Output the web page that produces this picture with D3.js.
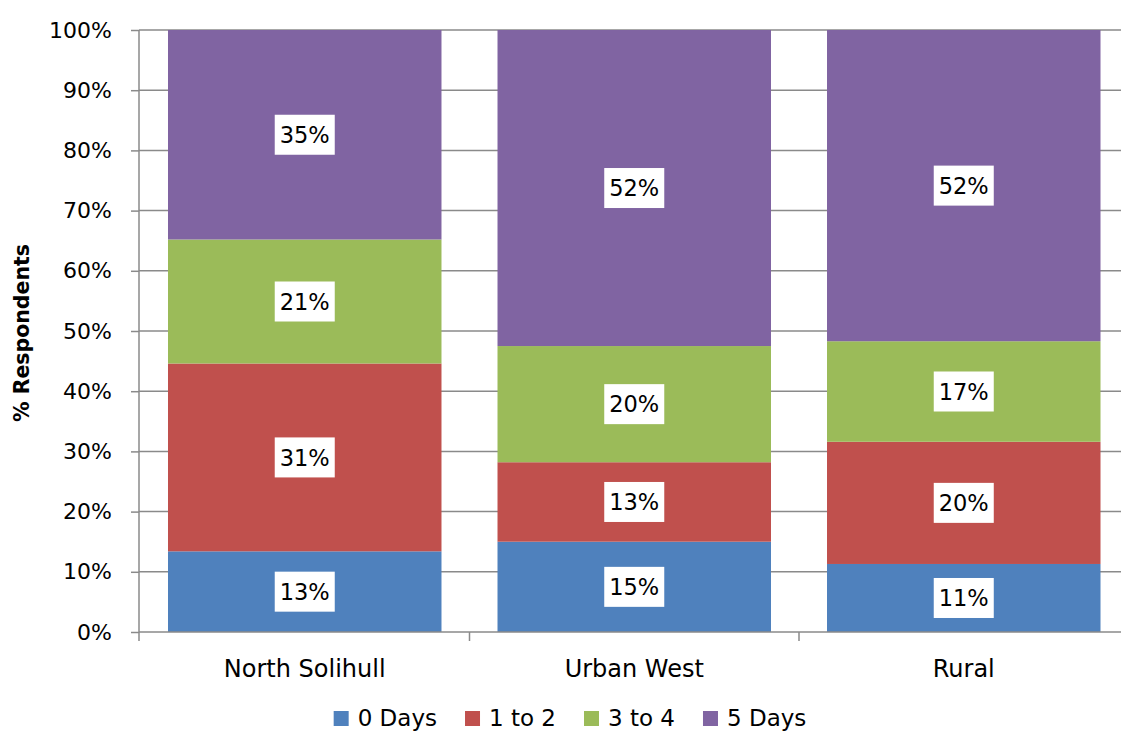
<!DOCTYPE html>
<html>
<head>
<meta charset="utf-8">
<script src="https://cdn.jsdelivr.net/npm/d3@7"></script>
<style>
  body { margin: 0; background: #fff; }
  svg { display: block; font-family: "DejaVu Sans", sans-serif; }
</style>
</head>
<body>
<svg id="chart" width="1121" height="731"></svg>
<script>
const categories = ['North Solihull', 'Urban West', 'Rural'];
const seriesNames = ['0 Days', '1 to 2', '3 to 4', '5 Days'];
const zeroDays = [13.4, 15.0, 11.3];
const oneToTwo = [31.2, 13.2, 20.3];
const threeToFour = [20.6, 19.3, 16.7];
const fiveDays = [34.8, 52.5, 51.7];
const labelText = [
  ['13%', '31%', '21%', '35%'],
  ['15%', '13%', '20%', '52%'],
  ['11%', '20%', '17%', '52%']
];
const yTicks = [0, 10, 20, 30, 40, 50, 60, 70, 80, 90, 100];
const colors = ['#4F81BD', '#C0504D', '#9BBB59', '#8064A2'];

const seriesValues = [zeroDays, oneToTwo, threeToFour, fiveDays];
const table = categories.map((c, i) => {
  const row = { category: c };
  seriesNames.forEach((s, j) => { row[s] = seriesValues[j][i]; });
  return row;
});

const plot = { left: 139, right: 1129.5, top: 30, bottom: 632 };
const axisColor = '#8a8a8a';

const svg = d3.select('#chart');

const x = d3.scaleBand()
  .domain(categories)
  .range([plot.left, plot.right])
  .paddingInner(0.17)
  .paddingOuter(0.088);

const y = d3.scaleLinear()
  .domain([0, 100])
  .range([plot.bottom, plot.top]);

const stacked = d3.stack().keys(seriesNames)(table);

// gridlines
svg.append('g')
  .selectAll('line')
  .data(yTicks.filter(t => t > 0))
  .enter().append('line')
    .attr('x1', plot.left)
    .attr('x2', plot.right)
    .attr('y1', d => y(d))
    .attr('y2', d => y(d))
    .attr('stroke', axisColor)
    .attr('stroke-width', 1.5);

// bars
const layers = svg.append('g')
  .selectAll('g')
  .data(stacked)
  .enter().append('g')
    .attr('fill', (d, i) => colors[i]);

layers.selectAll('rect')
  .data(d => d)
  .enter().append('rect')
    .attr('x', d => x(d.data.category))
    .attr('width', x.bandwidth())
    .attr('y', d => y(d[1]))
    .attr('height', d => y(d[0]) - y(d[1]));

// y axis
const yAxis = d3.axisLeft(y)
  .tickValues(yTicks)
  .tickFormat(d => d + '%')
  .tickSizeInner(8)
  .tickSizeOuter(0)
  .tickPadding(19);

const yg = svg.append('g')
  .attr('transform', 'translate(' + plot.left + ',0)')
  .call(yAxis);
yg.select('.domain').remove();
yg.selectAll('line').attr('stroke', axisColor).attr('stroke-width', 1.5);
yg.selectAll('text')
  .attr('font-size', 22)
  .attr('font-family', '"DejaVu Sans", sans-serif')
  .attr('fill', '#000');

svg.append('line')
  .attr('x1', plot.left).attr('x2', plot.left)
  .attr('y1', plot.top).attr('y2', plot.bottom + 9)
  .attr('stroke', axisColor).attr('stroke-width', 1.5);

// x axis
svg.append('line')
  .attr('x1', plot.left).attr('x2', plot.right)
  .attr('y1', plot.bottom).attr('y2', plot.bottom)
  .attr('stroke', axisColor).attr('stroke-width', 1.5);

const step = x.step();
svg.append('g')
  .selectAll('line')
  .data(categories.slice(1))
  .enter().append('line')
    .attr('x1', d => x(d) - (step - x.bandwidth()) / 2)
    .attr('x2', d => x(d) - (step - x.bandwidth()) / 2)
    .attr('y1', plot.bottom)
    .attr('y2', plot.bottom + 9)
    .attr('stroke', axisColor).attr('stroke-width', 1.5);

svg.append('g')
  .selectAll('text')
  .data(categories)
  .enter().append('text')
    .attr('x', d => x(d) + x.bandwidth() / 2)
    .attr('y', 677)
    .attr('text-anchor', 'middle')
    .attr('font-size', 24)
    .attr('fill', '#000')
    .text(d => d);

// y axis title
svg.append('text')
  .attr('transform', 'translate(29,333) rotate(-90)')
  .attr('text-anchor', 'middle')
  .attr('font-size', 20.5)
  .attr('font-weight', 'bold')
  .attr('fill', '#000')
  .text('% Respondents');

// data labels
const labels = svg.append('g');
stacked.forEach((layer, j) => {
  layer.forEach((d, i) => {
    const cx = x(d.data.category) + x.bandwidth() / 2;
    const cy = y((d[0] + d[1]) / 2);
    const g = labels.append('g');
    const t = g.append('text')
      .attr('x', cx)
      .attr('y', cy)
      .attr('dy', '0.36em')
      .attr('text-anchor', 'middle')
      .attr('font-size', 22.5)
      .attr('fill', '#000')
      .text(labelText[i][j]);
    const w = t.node().getComputedTextLength();
    g.insert('rect', 'text')
      .attr('x', cx - w / 2 - 5)
      .attr('y', cy - 20)
      .attr('width', w + 10)
      .attr('height', 40)
      .attr('fill', '#fff');
  });
});

// legend
const legend = svg.append('g');
let lx = 0;
seriesNames.forEach((s, i) => {
  const item = legend.append('g').attr('transform', 'translate(' + lx + ',0)');
  item.append('rect')
    .attr('x', 0).attr('y', 711)
    .attr('width', 15).attr('height', 15)
    .attr('fill', colors[i]);
  const t = item.append('text')
    .attr('x', 24).attr('y', 718)
    .attr('dy', '0.36em')
    .attr('font-size', 23)
    .attr('fill', '#000')
    .text(s);
  lx += 24 + t.node().getComputedTextLength() + 28;
});
const legendWidth = lx - 28;
legend.attr('transform', 'translate(' + (570 - legendWidth / 2) + ',0)');
</script>
</body>
</html>
